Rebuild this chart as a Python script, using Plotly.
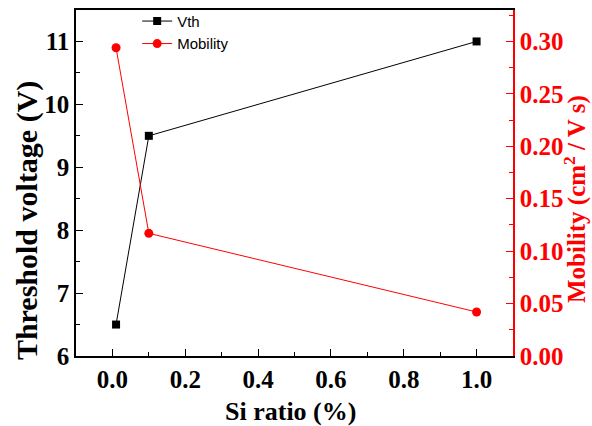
import plotly.graph_objects as go

si_ratio = [0.01, 0.1, 1.0]
vth = [6.5, 9.5, 11.0]
mobility = [0.294, 0.117, 0.042]

x_ticks = [0, 0.2, 0.4, 0.6, 0.8, 1.0]
x_labels = ["0.0", "0.2", "0.4", "0.6", "0.8", "1.0"]
y_ticks = [6, 7, 8, 9, 10, 11]
y_labels = ["6", "7", "8", "9", "10", "11"]
y2_ticks = [0, 0.05, 0.10, 0.15, 0.20, 0.25, 0.30]
y2_labels = ["0.00", "0.05", "0.10", "0.15", "0.20", "0.25", "0.30"]

fig = go.Figure()
fig.add_trace(go.Scatter(x=si_ratio, y=vth, name="Vth", mode="lines+markers",
                         line=dict(color="black", width=1),
                         marker=dict(symbol="square", size=8, color="black")))
fig.add_trace(go.Scatter(x=si_ratio, y=mobility, name="Mobility", mode="lines+markers",
                         line=dict(color="red", width=1),
                         marker=dict(symbol="circle", size=9, color="red"), yaxis="y2"))

serif = "Liberation Serif"
tfont = dict(family=serif, size=25, color="black")
bold = lambda lst: ["<b>%s</b>" % s for s in lst]

fig.update_layout(
    width=592, height=426,
    margin=dict(l=76, r=79, t=10, b=70, autoexpand=False),
    paper_bgcolor="white", plot_bgcolor="white",
    font=dict(family=serif),
    xaxis=dict(range=[-0.1, 1.1], tickvals=x_ticks, ticktext=bold(x_labels),
               ticks="inside", ticklen=7, tickwidth=1, tickcolor="black",
               minor=dict(ticks="inside", ticklen=4, tickcolor="black", dtick=0.1, tick0=0),
               showline=True, linecolor="black", linewidth=1.5, mirror=True,
               showgrid=False, zeroline=False, tickfont=tfont, automargin=False),
    yaxis=dict(range=[6, 11.5], tickvals=y_ticks, ticktext=bold(y_labels),
               ticks="inside", ticklen=7, tickwidth=1, tickcolor="black",
               minor=dict(ticks="inside", ticklen=4, tickcolor="black", dtick=0.5, tick0=6),
               showline=True, linecolor="black", linewidth=1.5,
               showgrid=False, zeroline=False, tickfont=tfont, automargin=False),
    yaxis2=dict(overlaying="y", side="right", range=[0, 0.33],
                tickvals=y2_ticks, ticktext=bold(y2_labels),
                ticks="inside", ticklen=7, tickwidth=1, tickcolor="red",
                minor=dict(ticks="inside", ticklen=4, tickcolor="red", dtick=0.025, tick0=0),
                showline=True, linecolor="red", linewidth=1.5,
                showgrid=False, zeroline=False, automargin=False,
                tickfont=dict(family=serif, size=25, color="red")),
    legend=dict(x=0.14, y=1.015, xanchor="left", yanchor="top", bgcolor="rgba(0,0,0,0)",
                font=dict(family="Liberation Sans", size=15, color="black"),
                tracegroupgap=0, itemwidth=30),
    showlegend=True,
    annotations=[
        dict(text="<b>Si ratio (%)</b>", xref="paper", yref="paper", x=0.49, y=-0.16,
             xanchor="center", yanchor="middle", showarrow=False,
             font=dict(family=serif, size=26, color="black")),
        dict(text="<b>Threshold voltage (V)</b>", xref="paper", yref="paper", x=-0.112, y=0.39,
             xanchor="center", yanchor="middle", showarrow=False, textangle=-90,
             font=dict(family=serif, size=30, color="black")),
        dict(text="<b>Mobility (cm<sup>2</sup> / V s)</b>", xref="paper", yref="paper", x=1.143, y=0.455,
             xanchor="center", yanchor="middle", showarrow=False, textangle=-90,
             font=dict(family=serif, size=25, color="red")),
    ],
)

fig.write_html("out.html", config={"displayModeBar": False},
               post_script="document.body.style.margin='0';document.body.style.overflow='hidden';")
